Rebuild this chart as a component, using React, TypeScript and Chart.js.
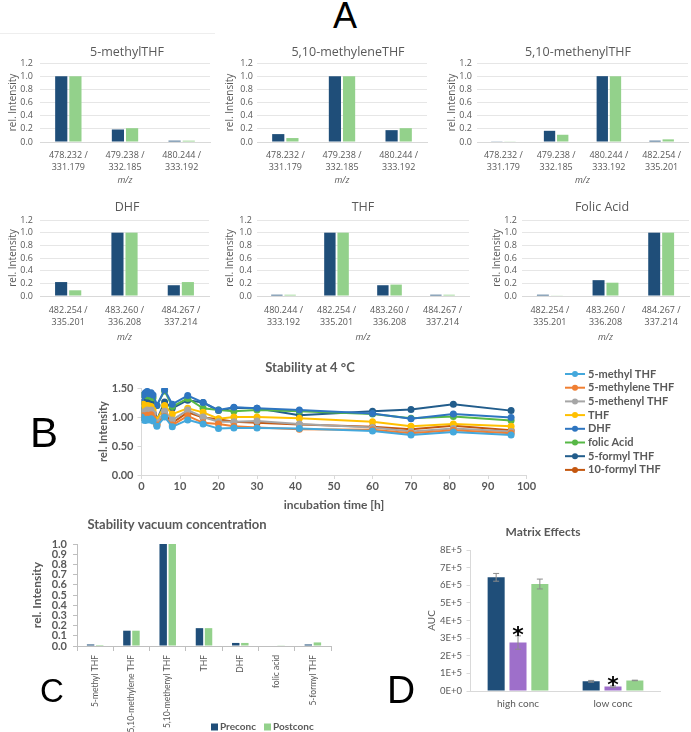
import React, { useEffect, useRef } from "react";
import { Chart, registerables } from "chart.js";

Chart.register(...registerables);

const TEXT_GRAY = "#595959";
const AXIS_GRAY = "#d9d9d9";
const GRID_GRAY = "#e6e6e6";
const NAVY = "#1f4e79";
const GREEN = "#93d18b";
const PURPLE = "#9e6fca";
const FONT_A = "'Open Sans', 'DejaVu Sans', sans-serif";
const FONT_B = "Lato, 'Open Sans', sans-serif";

// ---------------- Panel A: isotope patterns ----------------
const MZ_478 = ["478.232 /", "331.179"];
const MZ_479 = ["479.238 /", "332.185"];
const MZ_480 = ["480.244 /", "333.192"];
const MZ_482 = ["482.254 /", "335.201"];
const MZ_483 = ["483.260 /", "336.208"];
const MZ_484 = ["484.267 /", "337.214"];

const methylTHFLabels = [MZ_478, MZ_479, MZ_480];
const methylTHFNavy = [1.0, 0.19, 0.02];
const methylTHFGreen = [1.0, 0.21, 0.02];

const methyleneTHFLabels = [MZ_478, MZ_479, MZ_480];
const methyleneTHFNavy = [0.12, 1.0, 0.18];
const methyleneTHFGreen = [0.06, 1.0, 0.21];

const methenylTHFLabels = [MZ_478, MZ_479, MZ_480, MZ_482];
const methenylTHFNavy = [0.01, 0.17, 1.0, 0.02];
const methenylTHFGreen = [0.01, 0.11, 1.0, 0.04];

const dhfLabels = [MZ_482, MZ_483, MZ_484];
const dhfNavy = [0.22, 1.0, 0.17];
const dhfGreen = [0.09, 1.0, 0.22];

const thfLabels = [MZ_480, MZ_482, MZ_483, MZ_484];
const thfNavy = [0.02, 1.0, 0.17, 0.02];
const thfGreen = [0.02, 1.0, 0.18, 0.02];

const folicLabels = [MZ_482, MZ_483, MZ_484];
const folicNavy = [0.02, 0.25, 1.0];
const folicGreen = [0.01, 0.21, 1.0];

// ---------------- Panel B: stability at 4 °C ----------------
const stabilityTimes = [0, 0.5, 1, 1.5, 2, 2.5, 3, 4, 6, 8, 12, 16, 20, 24, 30, 41, 60, 70, 81, 96];
const s5MethylTHF = [1.0, 0.95, 0.94, 0.96, 0.95, 0.97, 0.93, 0.84, 1.0, 0.83, 0.95, 0.88, 0.8, 0.81, 0.81, 0.8, 0.76, 0.69, 0.74, 0.69];
const s5MethyleneTHF = [1.0, 1.02, 1.0, 1.03, 1.01, 1.04, 0.98, 0.86, 1.01, 0.86, 1.02, 0.9, 0.88, 0.84, 0.82, 0.79, 0.78, 0.72, 0.77, 0.72];
const s5MethenylTHF = [1.0, 1.08, 1.1, 1.12, 1.1, 1.12, 1.06, 0.9, 1.1, 0.95, 1.12, 1.0, 0.92, 0.92, 0.93, 0.88, 0.82, 0.75, 0.8, 0.75];
const sTHF = [1.0, 1.22, 1.18, 1.2, 1.19, 1.18, 1.12, 0.95, 1.2, 1.05, 1.15, 1.08, 0.97, 1.0, 1.0, 0.98, 0.92, 0.84, 0.88, 0.84];
const sDHF = [1.0, 1.38, 1.42, 1.44, 1.4, 1.42, 1.38, 1.2, 1.47, 1.22, 1.37, 1.25, 1.12, 1.17, 1.15, 1.12, 1.06, 0.97, 1.05, 0.99];
const sFolicAcid = [1.0, 1.38, 1.4, 1.36, 1.39, 1.35, 1.33, 1.2, 1.45, 1.18, 1.32, 1.15, 1.12, 1.1, 1.12, 1.1, 1.05, 0.98, 1.01, 0.94];
const s5FormylTHF = [1.0, 1.26, 1.3, 1.28, 1.32, 1.3, 1.26, 0.95, 1.26, 1.15, 1.29, 1.25, 1.11, 1.16, 1.15, 1.03, 1.1, 1.13, 1.22, 1.11];
const s10FormylTHF = [1.0, 1.05, 1.08, 1.12, 1.1, 1.14, 1.07, 0.87, 1.06, 0.9, 1.08, 0.99, 0.96, 0.92, 0.9, 0.87, 0.83, 0.79, 0.85, 0.77];
const stabilityNames = ["5-methyl THF", "5-methylene THF", "5-methenyl THF", "THF", "DHF", "folic Acid", "5-formyl THF", "10-formyl THF"];
const stabilityColors = ["#44a8dc", "#f07f32", "#a6a6a6", "#ffc000", "#2e75c0", "#57b846", "#225d8c", "#c4570f"];
const stabilityValues = [s5MethylTHF, s5MethyleneTHF, s5MethenylTHF, sTHF, sDHF, sFolicAcid, s5FormylTHF, s10FormylTHF];

// ---------------- Panel C: vacuum concentration ----------------
const vacuumLabels = ["5-methyl THF", "5,10-methylene THF", "5,10-methenyl THF", "THF", "DHF", "folic acid", "5-formyl THF"];
const vacuumPreconc = [0.015, 0.15, 1.0, 0.175, 0.03, 0.005, 0.015];
const vacuumPostconc = [0.01, 0.15, 1.0, 0.175, 0.03, 0.003, 0.035];

// ---------------- Panel D: matrix effects ----------------
const matrixLabels = ["high conc", "low conc"];
const matrixSolvent = [645000, 55000];
const matrixSolventErr = [22000, 5000];
const matrixMatrix = [275000, 25000];
const matrixMatrixErr = [38000, 4000];
const matrixCorrected = [607000, 60000];
const matrixCorrectedErr = [28000, 1500];
const matrixSignificant = [false, true, false];

type Box = { x: number; y: number; w: number; h: number };
type Area = { l: number; t: number; r: number; b: number };
type TextItem = { text: string; x: number; y: number; font: string; color: string; align?: CanvasTextAlign };

function textPlugin(box: Box, items: TextItem[]) {
  return {
    id: "absText",
    afterDraw(chart: any) {
      const ctx = chart.ctx;
      ctx.save();
      for (const it of items) {
        ctx.font = it.font;
        ctx.fillStyle = it.color;
        ctx.textAlign = it.align || "center";
        ctx.textBaseline = "middle";
        ctx.fillText(it.text, it.x - box.x, it.y - box.y);
      }
      ctx.restore();
    },
  };
}

function frame(box: Box, area: Area) {
  return {
    layout: { padding: { left: 0, top: area.t - box.y, right: box.x + box.w - area.r, bottom: 0 } },
    yWidth: area.l - box.x,
    xHeight: box.y + box.h - area.b,
  };
}

type PanelSpec = {
  box: Box; area: Area; title: string; titleX: number; titleY: number;
  yTitleX: number; yLabelRight: number; tickY: number; mzY: number;
  labels: string[][]; navy: number[]; green: number[];
};

function buildA(p: PanelSpec) {
  const f = frame(p.box, p.area);
  const tickLh = 12;
  return {
    type: "bar",
    data: {
      labels: p.labels,
      datasets: [
        { label: "Preconc", data: p.navy, backgroundColor: NAVY, categoryPercentage: 0.5, barPercentage: 0.86 },
        { label: "Postconc", data: p.green, backgroundColor: GREEN, categoryPercentage: 0.5, barPercentage: 0.86 },
      ],
    },
    options: {
      responsive: false,
      animation: false,
      layout: f.layout,
      plugins: { legend: { display: false }, tooltip: { enabled: false }, title: { display: false } },
      scales: {
        x: {
          afterFit: (s: any) => { s.height = f.xHeight; },
          grid: { display: true, drawOnChartArea: false, drawTicks: true, tickLength: p.tickY - p.area.b - tickLh / 2, tickColor: "rgba(0,0,0,0)" },
          border: { display: true, color: AXIS_GRAY },
          ticks: { color: TEXT_GRAY, font: { family: FONT_A, size: 9, lineHeight: tickLh / 9 }, padding: 0, maxRotation: 0, minRotation: 0, autoSkip: false },
          title: {
            display: true, text: "m/z", color: TEXT_GRAY,
            font: { family: FONT_A, size: 9, style: "italic", lineHeight: 1.2 },
            padding: { top: 0, bottom: p.box.y + p.box.h - p.mzY - 5.4 },
          },
        },
        y: {
          min: 0, max: 1.2,
          afterFit: (s: any) => { s.width = f.yWidth; },
          grid: { color: GRID_GRAY, drawTicks: false },
          border: { display: false },
          ticks: {
            stepSize: 0.2, autoSkip: false, color: TEXT_GRAY,
            font: { family: FONT_A, size: 9 }, padding: p.area.l - p.yLabelRight,
            callback: (v: any) => Number(v).toFixed(1),
          },
          title: {
            display: true, text: "rel. Intensity", color: TEXT_GRAY,
            font: { family: FONT_A, size: 10, lineHeight: 1.2 },
            padding: { top: p.yTitleX - p.box.x - 6, bottom: 0 },
          },
        },
      },
    },
    plugins: [textPlugin(p.box, [{ text: p.title, x: p.titleX, y: p.titleY, font: `12.5px ${FONT_A}`, color: TEXT_GRAY }])],
  };
}

const row1 = { t: 63, b: 142, titleY: 52, tickY: 155, mzY: 180, y: 38, h: 152 };
const row2 = { t: 220, b: 296, titleY: 207, tickY: 310, mzY: 337, y: 195, h: 152 };

const panelsA: PanelSpec[] = [
  { box: { x: 0, y: row1.y, w: 220, h: row1.h }, area: { l: 40, t: row1.t, r: 210, b: row1.b }, title: "5-methylTHF", titleX: 127, titleY: row1.titleY, yTitleX: 13, yLabelRight: 33, tickY: row1.tickY, mzY: row1.mzY, labels: methylTHFLabels, navy: methylTHFNavy, green: methylTHFGreen },
  { box: { x: 222, y: row1.y, w: 222, h: row1.h }, area: { l: 257, t: row1.t, r: 427, b: row1.b }, title: "5,10-methyleneTHF", titleX: 348, titleY: row1.titleY, yTitleX: 230, yLabelRight: 253, tickY: row1.tickY, mzY: row1.mzY, labels: methyleneTHFLabels, navy: methyleneTHFNavy, green: methyleneTHFGreen },
  { box: { x: 444, y: row1.y, w: 247, h: row1.h }, area: { l: 477, t: row1.t, r: 688, b: row1.b }, title: "5,10-methenylTHF", titleX: 578, titleY: row1.titleY, yTitleX: 452, yLabelRight: 472, tickY: row1.tickY, mzY: row1.mzY, labels: methenylTHFLabels, navy: methenylTHFNavy, green: methenylTHFGreen },
  { box: { x: 0, y: row2.y, w: 220, h: row2.h }, area: { l: 40, t: row2.t, r: 209, b: row2.b }, title: "DHF", titleX: 127, titleY: row2.titleY, yTitleX: 13, yLabelRight: 33, tickY: row2.tickY, mzY: row2.mzY, labels: dhfLabels, navy: dhfNavy, green: dhfGreen },
  { box: { x: 222, y: row2.y, w: 253, h: row2.h }, area: { l: 257, t: row2.t, r: 469, b: row2.b }, title: "THF", titleX: 363, titleY: row2.titleY, yTitleX: 230, yLabelRight: 252, tickY: row2.tickY, mzY: row2.mzY, labels: thfLabels, navy: thfNavy, green: thfGreen },
  { box: { x: 478, y: row2.y, w: 213, h: row2.h }, area: { l: 522, t: row2.t, r: 689, b: row2.b }, title: "Folic Acid", titleX: 602, titleY: row2.titleY, yTitleX: 497, yLabelRight: 517, tickY: row2.tickY, mzY: row2.mzY, labels: folicLabels, navy: folicNavy, green: folicGreen },
];

// ---------------- B ----------------
const boxB: Box = { x: 0, y: 352, w: 691, h: 163 };
const areaB: Area = { l: 141.5, t: 388, r: 526.5, b: 475 };

function buildB() {
  const f = frame(boxB, areaB);
  const legend = {
    id: "lineLegend",
    afterDraw(chart: any) {
      const ctx = chart.ctx;
      ctx.save();
      chart.data.datasets.forEach((ds: any, i: number) => {
        const y = 374 + i * 13.7 - boxB.y;
        ctx.strokeStyle = ds.borderColor;
        ctx.lineWidth = 2;
        ctx.beginPath();
        ctx.moveTo(565, y);
        ctx.lineTo(585, y);
        ctx.stroke();
        ctx.fillStyle = ds.borderColor;
        ctx.beginPath();
        ctx.arc(575, y, 3, 0, Math.PI * 2);
        ctx.fill();
        ctx.fillStyle = TEXT_GRAY;
        ctx.font = `bold 11px ${FONT_B}`;
        ctx.textAlign = "left";
        ctx.textBaseline = "middle";
        ctx.fillText(ds.label, 588, y);
      });
      ctx.restore();
    },
  };
  return {
    type: "line",
    data: {
      datasets: stabilityValues.map((vals, i) => ({
        label: stabilityNames[i],
        data: vals.map((v, j) => ({ x: stabilityTimes[j], y: v })),
        borderColor: stabilityColors[i],
        backgroundColor: stabilityColors[i],
        pointBackgroundColor: stabilityColors[i],
        pointBorderWidth: 0,
        pointRadius: 3.5,
        borderWidth: 2,
        tension: 0,
      })),
    },
    options: {
      responsive: false,
      animation: false,
      layout: f.layout,
      plugins: { legend: { display: false }, tooltip: { enabled: false } },
      scales: {
        x: {
          type: "linear", min: 0, max: 100,
          afterFit: (s: any) => { s.height = f.xHeight; },
          grid: { display: true, drawOnChartArea: false, drawTicks: true, tickLength: 4, color: AXIS_GRAY },
          border: { display: true, color: AXIS_GRAY },
          ticks: { stepSize: 10, autoSkip: false, color: TEXT_GRAY, font: { family: FONT_B, size: 11, weight: "bold" }, padding: 1, maxRotation: 0 },
          title: { display: true, text: "incubation time [h]", color: TEXT_GRAY, font: { family: FONT_B, size: 12, weight: "bold", lineHeight: 1.2 }, padding: { top: 0, bottom: 2.8 } },
        },
        y: {
          min: 0, max: 1.5,
          afterFit: (s: any) => { s.width = f.yWidth; },
          grid: { display: true, drawOnChartArea: false, drawTicks: true, tickLength: 4, color: AXIS_GRAY },
          border: { display: true, color: AXIS_GRAY },
          ticks: { stepSize: 0.5, autoSkip: false, color: TEXT_GRAY, font: { family: FONT_B, size: 11, weight: "bold" }, padding: 4, callback: (v: any) => Number(v).toFixed(2) },
          title: { display: true, text: "rel. Intensity", color: TEXT_GRAY, font: { family: FONT_B, size: 11, weight: "bold", lineHeight: 1.2 }, padding: { top: 103 - 6.6, bottom: 0 } },
        },
      },
    },
    plugins: [textPlugin(boxB, [{ text: "Stability at 4 °C", x: 310, y: 368, font: `bold 13px ${FONT_B}`, color: TEXT_GRAY }]), legend],
  };
}

// ---------------- C ----------------
const boxC: Box = { x: 0, y: 515, w: 354, h: 217 };
const areaC: Area = { l: 77, t: 544, r: 331, b: 646 };

function buildC() {
  const f = frame(boxC, areaC);
  const legend = {
    id: "boxLegend",
    afterDraw(chart: any) {
      const ctx = chart.ctx;
      ctx.save();
      const xs = [[211, 220], [264, 273]];
      chart.data.datasets.forEach((ds: any, i: number) => {
        const y = 727 - boxC.y;
        ctx.fillStyle = ds.backgroundColor;
        ctx.fillRect(xs[i][0] - boxC.x, y - 3.5, 7, 7);
        ctx.fillStyle = TEXT_GRAY;
        ctx.font = `bold 10px ${FONT_B}`;
        ctx.textAlign = "left";
        ctx.textBaseline = "middle";
        ctx.fillText(ds.label, xs[i][1] - boxC.x, y);
      });
      ctx.restore();
    },
  };
  return {
    type: "bar",
    data: {
      labels: vacuumLabels,
      datasets: [
        { label: "Preconc", data: vacuumPreconc, backgroundColor: NAVY, categoryPercentage: 0.5, barPercentage: 0.82 },
        { label: "Postconc", data: vacuumPostconc, backgroundColor: GREEN, categoryPercentage: 0.5, barPercentage: 0.82 },
      ],
    },
    options: {
      responsive: false,
      animation: false,
      layout: f.layout,
      plugins: { legend: { display: false }, tooltip: { enabled: false } },
      scales: {
        x: {
          afterFit: (s: any) => { s.height = f.xHeight; },
          grid: { display: true, drawOnChartArea: false, drawTicks: true, tickLength: 5, color: "#bfbfbf" },
          border: { display: true, color: "#bfbfbf" },
          ticks: { color: TEXT_GRAY, font: { family: FONT_B, size: 8.5 }, padding: 4, minRotation: 90, maxRotation: 90, autoSkip: false },
        },
        y: {
          min: 0, max: 1.0,
          afterFit: (s: any) => { s.width = f.yWidth; },
          grid: { display: true, drawOnChartArea: false, drawTicks: true, tickLength: 4, color: "#bfbfbf" },
          border: { display: true, color: "#bfbfbf" },
          ticks: { stepSize: 0.1, autoSkip: false, color: TEXT_GRAY, font: { family: FONT_B, size: 11, weight: "bold" }, padding: 6, callback: (v: any) => Number(v).toFixed(1) },
          title: { display: true, text: "rel. Intensity", color: TEXT_GRAY, font: { family: FONT_B, size: 12, weight: "bold", lineHeight: 1.2 }, padding: { top: 37 - 7.2, bottom: 0 } },
        },
      },
    },
    plugins: [textPlugin(boxC, [{ text: "Stability vacuum concentration", x: 177, y: 525, font: `bold 13px ${FONT_B}`, color: TEXT_GRAY }]), legend],
  };
}

// ---------------- D ----------------
const boxD: Box = { x: 380, y: 515, w: 311, h: 217 };
const areaD: Area = { l: 470.5, t: 550, r: 660.5, b: 691 };

function buildD() {
  const f = frame(boxD, areaD);
  const errs = [matrixSolventErr, matrixMatrixErr, matrixCorrectedErr];
  const errPlugin = {
    id: "errorBars",
    afterDatasetsDraw(chart: any) {
      const ctx = chart.ctx;
      const ys = chart.scales.y;
      ctx.save();
      chart.data.datasets.forEach((ds: any, i: number) => {
        const meta = chart.getDatasetMeta(i);
        meta.data.forEach((bar: any, j: number) => {
          const v = ds.data[j];
          const e = errs[i][j];
          const top = ys.getPixelForValue(v + e);
          const bot = ys.getPixelForValue(v - e);
          ctx.strokeStyle = "#8c8c8c";
          ctx.lineWidth = 1;
          ctx.beginPath();
          ctx.moveTo(bar.x, top);
          ctx.lineTo(bar.x, bot);
          ctx.moveTo(bar.x - 3, top);
          ctx.lineTo(bar.x + 3, top);
          ctx.moveTo(bar.x - 3, bot);
          ctx.lineTo(bar.x + 3, bot);
          ctx.stroke();
          if (matrixSignificant[i]) {
            ctx.fillStyle = "#000";
            ctx.font = `bold 22px 'DejaVu Sans', sans-serif`;
            ctx.textAlign = "center";
            ctx.textBaseline = "alphabetic";
            ctx.fillText("*", bar.x, top - 6.5 + 12.5);
          }
        });
      });
      ctx.restore();
    },
  };
  return {
    type: "bar",
    data: {
      labels: matrixLabels,
      datasets: [
        { label: "Solvent", data: matrixSolvent, backgroundColor: NAVY, categoryPercentage: 0.69, barPercentage: 0.78 },
        { label: "Matrix", data: matrixMatrix, backgroundColor: PURPLE, categoryPercentage: 0.69, barPercentage: 0.78 },
        { label: "Matrix corrected", data: matrixCorrected, backgroundColor: GREEN, categoryPercentage: 0.69, barPercentage: 0.78 },
      ],
    },
    options: {
      responsive: false,
      animation: false,
      layout: f.layout,
      plugins: { legend: { display: false }, tooltip: { enabled: false } },
      scales: {
        x: {
          afterFit: (s: any) => { s.height = f.xHeight; },
          grid: { display: true, drawOnChartArea: false, drawTicks: true, tickLength: 7, tickColor: "rgba(0,0,0,0)" },
          border: { display: true, color: AXIS_GRAY },
          ticks: { color: TEXT_GRAY, font: { family: FONT_B, size: 10 }, padding: 0, maxRotation: 0, autoSkip: false },
        },
        y: {
          min: 0, max: 800000,
          afterFit: (s: any) => { s.width = f.yWidth; },
          grid: { display: true, drawOnChartArea: false, drawTicks: true, tickLength: 4, color: AXIS_GRAY },
          border: { display: true, color: AXIS_GRAY },
          ticks: {
            stepSize: 100000, autoSkip: false, color: TEXT_GRAY, font: { family: FONT_B, size: 9.5 }, padding: 4.5,
            callback: (v: any) => (Number(v) === 0 ? "0E+0" : `${Math.round(Number(v) / 100000)}E+5`),
          },
          title: { display: true, text: "AUC", color: TEXT_GRAY, font: { family: FONT_B, size: 10, lineHeight: 1.2 }, padding: { top: 432 - 380 - 6, bottom: 0 } },
        },
      },
    },
    plugins: [textPlugin(boxD, [{ text: "Matrix Effects", x: 543, y: 532, font: `bold 12px ${FONT_B}`, color: TEXT_GRAY }]), errPlugin],
  };
}

function ChartCanvas({ box, build }: { box: Box; build: () => any }) {
  const ref = useRef<HTMLCanvasElement | null>(null);
  useEffect(() => {
    if (!ref.current) return;
    const chart = new Chart(ref.current, build());
    return () => chart.destroy();
  }, []);
  return (
    <canvas
      ref={ref}
      width={box.w}
      height={box.h}
      style={{ position: "absolute", left: box.x, top: box.y, width: box.w, height: box.h }}
    />
  );
}

function PanelLetter({ text, x, baseline, size }: { text: string; x: number; baseline: number; size: number }) {
  return (
    <div
      style={{
        position: "absolute",
        left: x,
        top: baseline - 0.8465 * size,
        fontFamily: "'Liberation Sans', Arial, sans-serif",
        fontSize: size,
        lineHeight: `${size}px`,
        color: "#000",
        whiteSpace: "nowrap",
      }}
    >
      {text}
    </div>
  );
}

export default function App() {
  return (
    <div style={{ position: "absolute", left: 0, top: 0, width: 691, height: 732, overflow: "hidden", background: "#fff" }}>
      <PanelLetter text="A" x={333} baseline={28} size={36} />
      <div style={{ position: "absolute", left: 0, top: 33, width: 215, height: 1, background: "#eeeeee" }} />
      {panelsA.map((p, i) => (
        <ChartCanvas key={i} box={p.box} build={() => buildA(p)} />
      ))}
      <ChartCanvas box={boxB} build={buildB} />
      <PanelLetter text="B" x={30} baseline={448} size={42} />
      <ChartCanvas box={boxC} build={buildC} />
      <PanelLetter text="C" x={40} baseline={702} size={33} />
      <ChartCanvas box={boxD} build={buildD} />
      <PanelLetter text="D" x={387} baseline={703} size={39} />
    </div>
  );
}
